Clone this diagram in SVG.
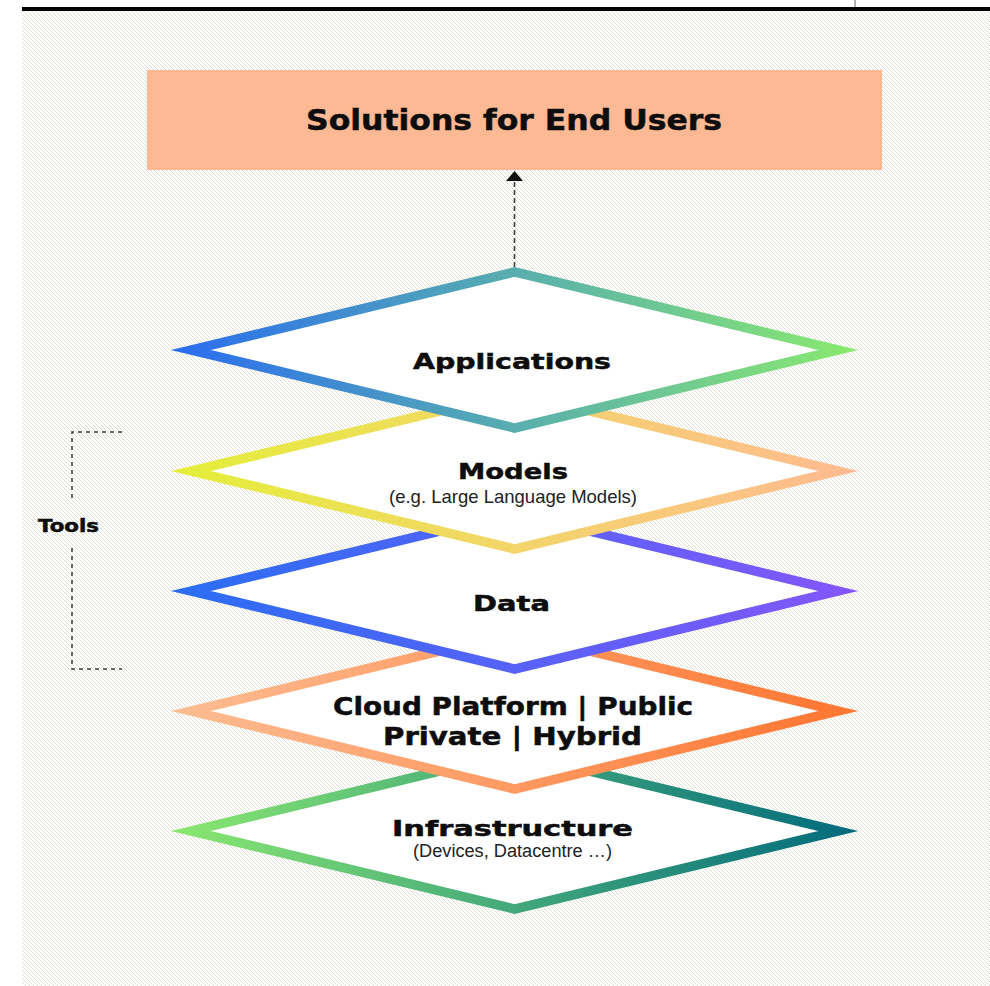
<svg xmlns="http://www.w3.org/2000/svg" width="990" height="986" viewBox="0 0 990 986">
  <style>
    .lbl { font-family: "DejaVu Sans", "Liberation Sans", sans-serif; font-weight: bold; fill: #0d0d0d; stroke: #0d0d0d; stroke-width: 0.5; }
    .sub { font-family: "Liberation Sans", Arial, sans-serif; font-weight: normal; fill: #222; }
    .dia { stroke-width: 9.5; stroke-linejoin: miter; stroke-miterlimit: 10; fill: #ffffff; }
    .dash { fill: none; stroke: #3a3a3a; stroke-width: 1.5; }
  </style>
  <defs>
    <pattern id="hatch" patternUnits="userSpaceOnUse" width="4" height="4">
      <rect width="4" height="4" fill="#ffffff"/>
      <path d="M-1,-1 L5,5 M-1,3 L1,5 M3,-1 L5,1" stroke="#dfdfcf" stroke-width="1"/>
    </pattern>
    <linearGradient id="gApp" gradientUnits="userSpaceOnUse" x1="171" y1="0" x2="858" y2="0">
      <stop offset="0" stop-color="#2a6cf1"/>
      <stop offset="0.5" stop-color="#58aeae"/>
      <stop offset="1" stop-color="#8aea6e"/>
    </linearGradient>
    <linearGradient id="gMod" gradientUnits="userSpaceOnUse" x1="171" y1="0" x2="858" y2="0">
      <stop offset="0" stop-color="#e4ef38"/>
      <stop offset="0.5" stop-color="#f3d56a"/>
      <stop offset="1" stop-color="#ffba91"/>
    </linearGradient>
    <linearGradient id="gData" gradientUnits="userSpaceOnUse" x1="171" y1="0" x2="858" y2="0">
      <stop offset="0" stop-color="#2a6ef3"/>
      <stop offset="1" stop-color="#8456fb"/>
    </linearGradient>
    <linearGradient id="gCloud" gradientUnits="userSpaceOnUse" x1="171" y1="0" x2="858" y2="0">
      <stop offset="0" stop-color="#fdbd93"/>
      <stop offset="1" stop-color="#ff7530"/>
    </linearGradient>
    <linearGradient id="gInfra" gradientUnits="userSpaceOnUse" x1="171" y1="0" x2="858" y2="0">
      <stop offset="0" stop-color="#8be870"/>
      <stop offset="0.5" stop-color="#43a87b"/>
      <stop offset="1" stop-color="#016a7c"/>
    </linearGradient>
    <marker id="arrowUp" viewBox="0 0 10 17" refX="0" refY="8.5" markerUnits="userSpaceOnUse" markerWidth="10" markerHeight="17" orient="auto">
      <path d="M0,0 L10,8.5 L0,17 z" fill="#111"/>
    </marker>
  </defs>

  <g id="background">
    <rect x="0" y="0" width="990" height="986" fill="#ffffff"/>
    <rect x="22" y="10" width="968" height="976" fill="url(#hatch)"/>
    <rect x="22" y="7" width="968" height="4" fill="#000000"/>
    <line x1="855" y1="0" x2="855" y2="7" stroke="#666" stroke-width="1"/>
  </g>

  <g id="node-solutions">
    <rect x="147" y="70" width="735" height="100" fill="#fdb994"/>
    <text class="lbl" x="306" y="130" font-size="28" textLength="416" lengthAdjust="spacingAndGlyphs">Solutions for End Users</text>
  </g>

  <g id="node-infrastructure">
    <polygon class="dia" stroke="url(#gInfra)" points="191,831 514.5,753 838,831 514.5,909"/>
    <text class="lbl" x="392" y="836" font-size="21" textLength="241" lengthAdjust="spacingAndGlyphs">Infrastructure</text>
    <text class="sub" x="413" y="857" font-size="18" textLength="199" lengthAdjust="spacingAndGlyphs">(Devices, Datacentre …)</text>
  </g>

  <g id="node-cloud">
    <polygon class="dia" stroke="url(#gCloud)" points="191,711 514.5,633 838,711 514.5,789"/>
    <text class="lbl" x="333" y="715" font-size="24" textLength="360" lengthAdjust="spacingAndGlyphs">Cloud Platform | Public</text>
    <text class="lbl" x="383" y="745" font-size="24" textLength="259" lengthAdjust="spacingAndGlyphs">Private | Hybrid</text>
  </g>

  <g id="node-data">
    <polygon class="dia" stroke="url(#gData)" points="191,591 514.5,513 838,591 514.5,669"/>
    <text class="lbl" x="473" y="611" font-size="22" textLength="77" lengthAdjust="spacingAndGlyphs">Data</text>
  </g>

  <g id="node-models">
    <polygon class="dia" stroke="url(#gMod)" points="191,471 514.5,393 838,471 514.5,549"/>
    <text class="lbl" x="458" y="479" font-size="22" textLength="110" lengthAdjust="spacingAndGlyphs">Models</text>
    <text class="sub" x="389" y="503" font-size="18.5" textLength="248" lengthAdjust="spacingAndGlyphs">(e.g. Large Language Models)</text>
  </g>

  <g id="node-applications">
    <polygon class="dia" stroke="url(#gApp)" points="191,350 514.5,272 838,350 514.5,428"/>
    <text class="lbl" x="413" y="369" font-size="22" textLength="198" lengthAdjust="spacingAndGlyphs">Applications</text>
  </g>

  <g id="node-tools">
    <text class="lbl" x="38" y="532" font-size="17" textLength="61" lengthAdjust="spacingAndGlyphs">Tools</text>
  </g>

  <g id="connectors">
    <line class="dash" x1="514.5" y1="267" x2="514.5" y2="181" stroke-dasharray="5 3" marker-end="url(#arrowUp)"/>
    <path class="dash" d="M122,432 L72,432 L72,501" stroke-dasharray="4 4"/>
    <path class="dash" d="M72,548 L72,669 L122,669" stroke-dasharray="4 4"/>
  </g>
</svg>
